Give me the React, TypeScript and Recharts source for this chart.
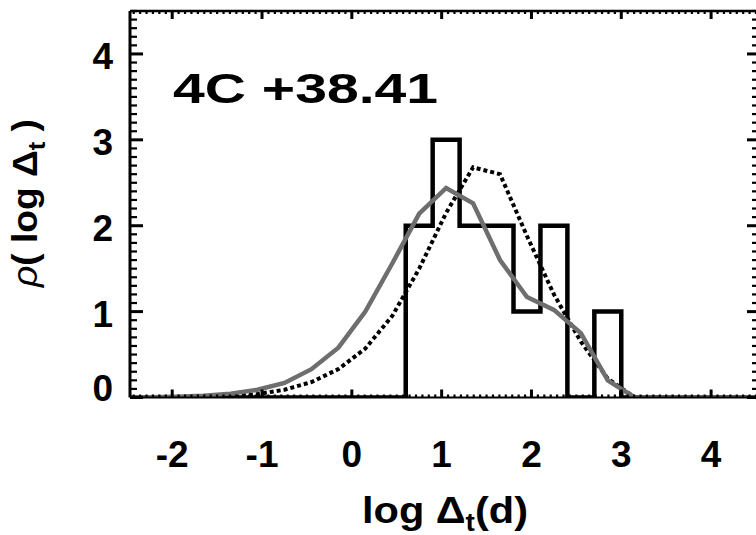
import { ComposedChart, Line, XAxis, YAxis } from "recharts";

// histogram of log time-lags: bin edges + counts (stepAfter)
const histEdges = [-2.47, 0.6, 0.9, 1.2, 1.5, 1.8, 2.1, 2.4, 2.7, 3.0, 4.5];
const histCounts = [0, 2, 3, 2, 2, 1, 2, 0, 1, 0, 0];

// model curves sampled on the same 0.3 grid
const modelX = [
  -2.47, -2.25, -1.95, -1.65, -1.35, -1.05, -0.75, -0.45, -0.15, 0.15, 0.45,
  0.75, 1.05, 1.35, 1.65, 1.95, 2.25, 2.55, 2.85, 3.15, 4.5,
];
const solidFit = [
  0, 0.003, 0.01, 0.02, 0.045, 0.09, 0.17, 0.33, 0.58, 1.0, 1.56, 2.14, 2.44,
  2.26, 1.6, 1.17, 1.02, 0.75, 0.2, 0, 0,
];
const dottedFit = [
  0, 0, 0.002, 0.006, 0.015, 0.04, 0.09, 0.18, 0.33, 0.57, 0.95, 1.5, 2.15,
  2.68, 2.6, 1.88, 1.2, 0.65, 0.22, 0, 0,
];

const X_DOMAIN: [number, number] = [-2.47, 4.5];
const Y_DOMAIN: [number, number] = [0, 4.5];

const TITLE = "4C +38.41";
const FONT = "'Liberation Sans', Arial, Helvetica, sans-serif";

// major (labelled) + minor ticks along the frame
const xMinor: number[] = [];
for (let k = Math.ceil(X_DOMAIN[0] * 14); k <= X_DOMAIN[1] * 14; k++) xMinor.push(k / 14);
const yMinor: number[] = [];
for (let k = 0; k <= 45; k++) yMinor.push(k / 10);

const histData = histEdges.map((x, i) => ({ x, y: histCounts[i] }));
const solidData = modelX.map((x, i) => ({ x, y: solidFit[i] }));
const dottedData = modelX.map((x, i) => ({ x, y: dottedFit[i] }));

const TICK_LEN: Record<string, [number, number]> = {
  top: [3, 8],
  bottom: [3, 8],
  left: [7, 13],
  right: [4, 9],
};

const isMajor = (v: number) => Math.abs(v - Math.round(v)) < 1e-6;

function tickMark(side: string, x: number, y: number, v: number) {
  const major = isMajor(v);
  const len = TICK_LEN[side][major ? 1 : 0];
  const w = major ? 3 : 2.2;
  if (side === "top") return <line x1={x} x2={x} y1={y} y2={y + len} stroke="#000" strokeWidth={w} />;
  if (side === "bottom") return <line x1={x} x2={x} y1={y} y2={y - len} stroke="#000" strokeWidth={w} />;
  if (side === "left") return <line x1={x} x2={x + len} y1={y} y2={y} stroke="#000" strokeWidth={w} />;
  return <line x1={x} x2={x - len} y1={y} y2={y} stroke="#000" strokeWidth={w} />;
}

function XTick({ x, y, payload }: any) {
  const v = payload.value;
  return (
    <g>
      {tickMark("bottom", x, y, v)}
      {isMajor(v) && (
        <text x={x} y={y + 69.5} textAnchor="middle" fontFamily={FONT} fontWeight="bold" fontSize={37} fill="#000">
          {String(Math.round(v))}
        </text>
      )}
    </g>
  );
}

function YTick({ x, y, payload }: any) {
  const v = payload.value;
  const dy = v === 0 ? 3 : 15;
  return (
    <g>
      {tickMark("left", x, y, v)}
      {isMajor(v) && (
        <text x={x - 17} y={y + dy} textAnchor="end" fontFamily={FONT} fontWeight="bold" fontSize={37} fill="#000">
          {String(Math.round(v))}
        </text>
      )}
    </g>
  );
}

function FrameTick(props: any) {
  const { x, y, payload, side } = props;
  return tickMark(side, x, y, payload.value);
}

function XTitle() {
  return (
    <text x={445} y={523} textAnchor="middle" fontFamily={FONT} fontWeight="bold" fontSize={37} fill="#000"
      textLength={166} lengthAdjust="spacingAndGlyphs">
      log Δ<tspan fontSize={25} dy={8}>t</tspan>
      <tspan dy={-8}>(d)</tspan>
    </text>
  );
}

function YTitle() {
  return (
    <text transform="translate(37,203) rotate(-90)" textAnchor="middle" fontFamily={FONT} fontWeight="bold"
      fontSize={35} fill="#000" textLength={168} lengthAdjust="spacingAndGlyphs">
      <tspan fontStyle="italic" fontWeight="normal">ρ</tspan>
      <tspan>( log Δ</tspan>
      <tspan fontSize={24} dy={8}>t</tspan>
      <tspan dy={-8}> )</tspan>
    </text>
  );
}

function ChartTitle() {
  return (
    <text x={173} y={103} fontFamily={FONT} fontWeight="bold" fontSize={42} fill="#000"
      textLength={265} lengthAdjust="spacingAndGlyphs">
      {TITLE}
    </text>
  );
}

export default function App() {
  return (
    <div style={{ position: "absolute", left: 0, top: 0, background: "#fff" }}>
      <ComposedChart width={756} height={535} margin={{ top: 11, right: 0, bottom: 0, left: 0 }}>
        <XAxis
          xAxisId="x"
          type="number"
          dataKey="x"
          domain={X_DOMAIN}
          ticks={xMinor}
          allowDataOverflow
          height={137.5}
          tickSize={0}
          tickMargin={0}
          axisLine={{ stroke: "#000", strokeWidth: 2 }}
          tickLine={false}
          interval={0}
          tick={<XTick />}
          label={<XTitle />}
        />
        <YAxis
          yAxisId="y"
          type="number"
          domain={Y_DOMAIN}
          ticks={yMinor}
          allowDataOverflow
          width={130}
          tickSize={0}
          tickMargin={0}
          axisLine={{ stroke: "#000", strokeWidth: 3 }}
          tickLine={false}
          interval={0}
          tick={<YTick />}
          label={<YTitle />}
        />
        {/* top and right frame with inward ticks */}
        <XAxis
          xAxisId="top"
          orientation="top"
          mirror
          type="number"
          dataKey="x"
          domain={X_DOMAIN}
          ticks={xMinor}
          allowDataOverflow
          tickSize={0}
          tickMargin={0}
          tickLine={false}
          interval={0}
          axisLine={{ stroke: "#000", strokeWidth: 2.5 }}
          tick={(p: any) => <FrameTick {...p} side="top" />}
          label={<ChartTitle />}
        />
        <YAxis
          yAxisId="right"
          orientation="right"
          mirror
          type="number"
          domain={Y_DOMAIN}
          ticks={yMinor}
          allowDataOverflow
          tickSize={0}
          tickMargin={0}
          tickLine={false}
          interval={0}
          axisLine={false}
          tick={(p: any) => <FrameTick {...p} side="right" />}
        />
        {/* invisible series so the frame axes get a domain */}
        <Line
          xAxisId="top"
          yAxisId="right"
          data={histData}
          dataKey="y"
          stroke="none"
          dot={false}
          legendType="none"
          isAnimationActive={false}
        />
        <Line
          xAxisId="x"
          yAxisId="y"
          data={histData}
          dataKey="y"
          type="stepAfter"
          stroke="#000"
          strokeWidth={4.5}
          strokeLinejoin="miter"
          dot={false}
          isAnimationActive={false}
        />
        <Line
          xAxisId="x"
          yAxisId="y"
          data={dottedData}
          dataKey="y"
          type="linear"
          stroke="#000"
          strokeWidth={4}
          strokeDasharray="4 3"
          dot={false}
          isAnimationActive={false}
        />
        <Line
          xAxisId="x"
          yAxisId="y"
          data={solidData}
          dataKey="y"
          type="linear"
          stroke="#6e6e6e"
          strokeWidth={4.5}
          dot={false}
          isAnimationActive={false}
        />
      </ComposedChart>
    </div>
  );
}
